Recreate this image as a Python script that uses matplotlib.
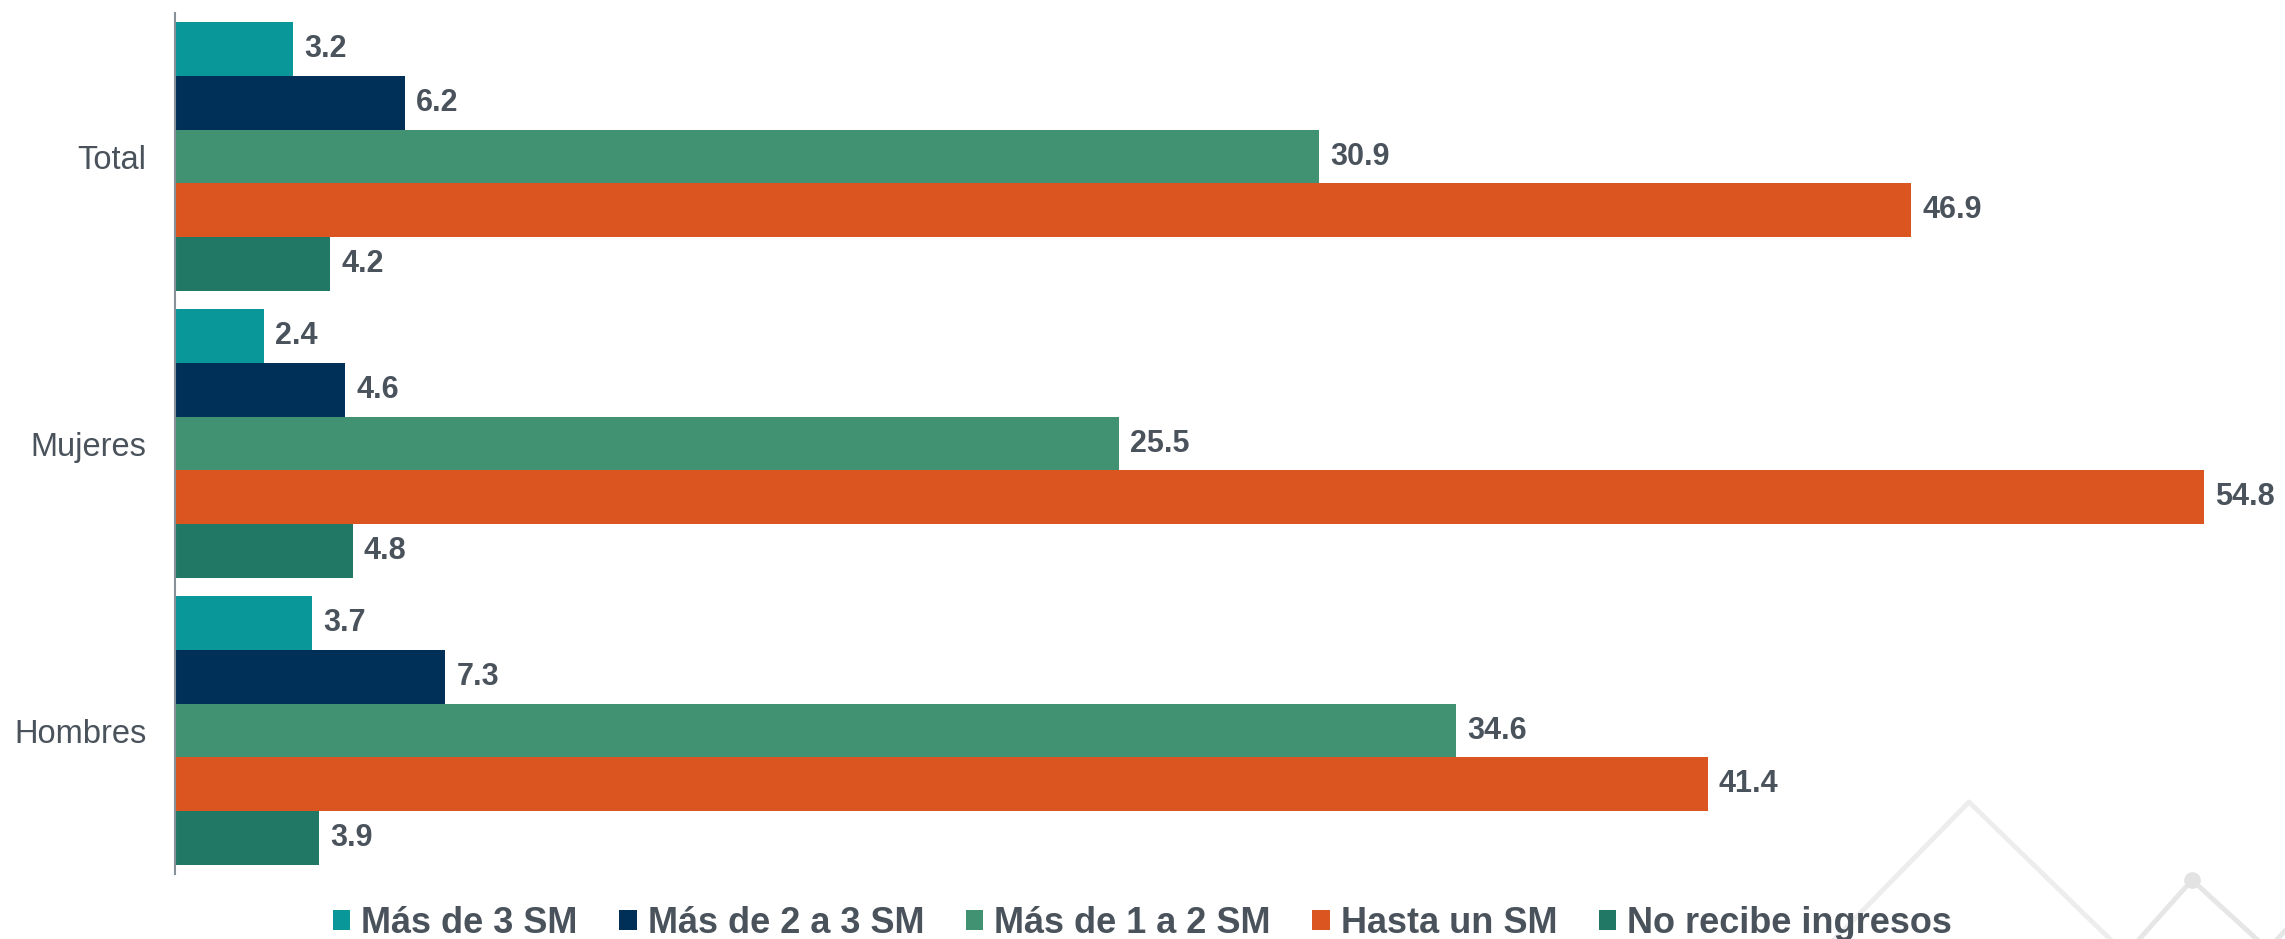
import matplotlib
matplotlib.use("Agg")
import matplotlib.pyplot as plt
from matplotlib.patches import Patch
from matplotlib.lines import Line2D
import numpy as np

plt.rcParams['font.family'] = ['Liberation Sans', 'DejaVu Sans']

# Data
categories = ["Total", "Mujeres", "Hombres"]
series = ["Más de 3 SM", "Más de 2 a 3 SM", "Más de 1 a 2 SM", "Hasta un SM", "No recibe ingresos"]
mas_3 = [3.2, 2.4, 3.7]
mas_2_3 = [6.2, 4.6, 7.3]
mas_1_2 = [30.9, 25.5, 34.6]
hasta_1 = [46.9, 54.8, 41.4]
no_recibe = [4.2, 4.8, 3.9]
values = [mas_3, mas_2_3, mas_1_2, hasta_1, no_recibe]
colors = ["#0A979A", "#003057", "#419173", "#DB5520", "#207865"]

text_color = "#4A535C"

fig = plt.figure(figsize=(22.85, 9.39), dpi=100)
ax = fig.add_axes([175 / 2285, 65 / 939, 2110 / 2285, 861 / 939])
ax.patch.set_alpha(0)

y = np.arange(len(categories))
h = 0.1875
for i, (vals, col) in enumerate(zip(values, colors)):
    pos = y + (i - 2) * h
    bars = ax.barh(pos, vals, height=h, color=col, label=series[i], zorder=2)
    for b, v in zip(bars, vals):
        ax.text(b.get_width() + 0.3, b.get_y() + b.get_height() / 2, f"{v:.1f}",
                va="center", ha="left", fontsize=22, fontweight="bold", color=text_color)

ax.set_xlim(0, 57)
ax.set_ylim(2.5, -0.5)
ax.set_yticks(y)
ax.set_yticklabels(categories, fontsize=23.5, color=text_color)
ax.tick_params(axis="y", length=0, pad=20.5)
ax.set_xticks([])
for s in ["top", "right", "bottom"]:
    ax.spines[s].set_visible(False)
ax.spines["left"].set_color("#8A9098")
ax.spines["left"].set_linewidth(1.5)

# watermark decoration in the lower right corner
wm = "#EDEDED"
fig.add_artist(Line2D([1830 / 2285, 1969 / 2285, 2115 / 2285], [-5 / 939, 137 / 939, -5 / 939],
                      color=wm, lw=3.5, zorder=0, transform=fig.transFigure))
fig.add_artist(Line2D([2135 / 2285, 2192 / 2285, 2262 / 2285], [-5 / 939, 59 / 939, -5 / 939],
                      color="#E6E6E6", lw=3.5, zorder=0, transform=fig.transFigure))
fig.add_artist(Line2D([2273 / 2285, 2300 / 2285], [-5 / 939, 25 / 939],
                      color="#E6E6E6", lw=3.5, zorder=0, transform=fig.transFigure))
fig.add_artist(Line2D([2192 / 2285], [59 / 939], marker="o", markersize=11,
                      color="#E3E3E3", zorder=0, transform=fig.transFigure))

handles = [Patch(facecolor=c, edgecolor="none") for c in colors]
leg = fig.legend(handles, series, loc="lower center", bbox_to_anchor=(0.5, -0.01),
                 ncol=5, frameon=False, prop={"size": 26, "weight": "bold"},
                 handlelength=0.48, handleheight=0.48, handletextpad=0.3,
                 columnspacing=1.16, borderpad=0.1, borderaxespad=0.1)
for t in leg.get_texts():
    t.set_color(text_color)

fig.savefig("out.png", dpi=100)
